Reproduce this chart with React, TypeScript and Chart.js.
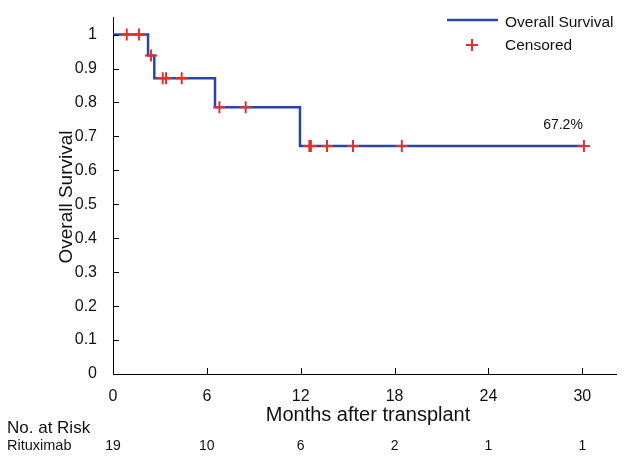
import React, { useEffect, useRef } from "react";
import { Chart, registerables } from "chart.js";

Chart.register(...registerables);

// Kaplan-Meier step points (months, survival)
const stepMonths = [0, 2.24, 2.64, 6.52, 11.95, 30.1];
const stepSurvival = [1, 0.938, 0.871, 0.786, 0.672, 0.672];

// Censored observations
const censorMonths = [0.88, 1.66, 2.43, 3.18, 3.39, 4.39, 6.8, 8.48, 12.55, 12.65, 13.68, 15.34, 18.46, 30.1];
const censorSurvival = [1, 1, 0.938, 0.871, 0.871, 0.871, 0.786, 0.786, 0.672, 0.672, 0.672, 0.672, 0.672, 0.672];

// Number at risk
const riskMonths = [0, 6, 12, 18, 24, 30];
const riskCounts = [19, 10, 6, 2, 1, 1];

const seriesLabels = ["Overall Survival", "Censored"];
const finalLabel = "67.2%";

const BLUE = "#2b45a6";
const RED = "#e8302a";
const FONT = "'Liberation Sans', Arial, Helvetica, sans-serif";

export default function App() {
  const ref = useRef<HTMLCanvasElement | null>(null);

  useEffect(() => {
    const canvas = ref.current;
    if (!canvas) return;

    const decor = {
      id: "decor",
      afterDraw(chart: any) {
        const ctx = chart.ctx as CanvasRenderingContext2D;
        const xs = chart.scales.x;
        const ys = chart.scales.y;
        const area = chart.chartArea;
        ctx.save();
        // inward tick marks
        ctx.strokeStyle = "#000";
        ctx.lineWidth = 1;
        xs.ticks.forEach((t: any) => {
          const px = Math.round(xs.getPixelForValue(t.value)) + 0.5;
          ctx.beginPath();
          ctx.moveTo(px, area.bottom);
          ctx.lineTo(px, area.bottom - 6);
          ctx.stroke();
        });
        ys.ticks.forEach((t: any) => {
          const py = Math.round(ys.getPixelForValue(t.value)) + 0.5;
          ctx.beginPath();
          ctx.moveTo(area.left, py);
          ctx.lineTo(area.left + 6, py);
          ctx.stroke();
        });

        ctx.fillStyle = "#111";
        // x title
        ctx.font = `20px ${FONT}`;
        ctx.textAlign = "center";
        ctx.textBaseline = "alphabetic";
        ctx.fillText("Months after transplant", 368, 421);

        // y title
        ctx.save();
        ctx.translate(72, 197);
        ctx.rotate(-Math.PI / 2);
        ctx.font = `19px ${FONT}`;
        ctx.textAlign = "center";
        ctx.fillText("Overall Survival", 0, 0);
        ctx.restore();

        // final survival label
        ctx.font = `14px ${FONT}`;
        ctx.textAlign = "center";
        ctx.fillText(finalLabel, 563, 129);

        // number at risk table
        ctx.textAlign = "left";
        ctx.font = `17px ${FONT}`;
        ctx.fillText("No. at Risk", 7, 433);
        ctx.font = `14.5px ${FONT}`;
        ctx.fillText("Rituximab", 7, 450);
        ctx.font = `14px ${FONT}`;
        ctx.textAlign = "center";
        riskMonths.forEach((m, i) => {
          ctx.fillText(String(riskCounts[i]), xs.getPixelForValue(m), 450);
        });

        // legend
        ctx.strokeStyle = BLUE;
        ctx.lineWidth = 2.5;
        ctx.beginPath();
        ctx.moveTo(447, 20);
        ctx.lineTo(498, 20);
        ctx.stroke();
        ctx.strokeStyle = RED;
        ctx.lineWidth = 2;
        ctx.beginPath();
        ctx.moveTo(466, 45);
        ctx.lineTo(478, 45);
        ctx.moveTo(472, 39);
        ctx.lineTo(472, 51);
        ctx.stroke();
        ctx.fillStyle = "#111";
        ctx.font = `15.5px ${FONT}`;
        ctx.textAlign = "left";
        ctx.fillText(seriesLabels[0], 505, 26.5);
        ctx.fillText(seriesLabels[1], 505, 50);
        ctx.restore();
      },
    };

    const chart = new Chart(canvas, {
      type: "line",
      data: {
        datasets: [
          {
            label: seriesLabels[1],
            type: "scatter",
            data: censorMonths.map((m, i) => ({ x: m, y: censorSurvival[i] })),
            showLine: false,
            pointStyle: "cross",
            pointRadius: 6,
            pointBorderWidth: 2,
            pointBorderColor: RED,
            pointBackgroundColor: RED,
          } as any,
          {
            label: seriesLabels[0],
            data: stepMonths.map((m, i) => ({ x: m, y: stepSurvival[i] })),
            stepped: "before",
            borderColor: BLUE,
            borderWidth: 2.5,
            pointRadius: 0,
            fill: false,
          } as any,
        ],
      },
      options: {
        animation: false,
        responsive: false,
        devicePixelRatio: 1,
        layout: { padding: { top: 6.5, right: 8, left: 0, bottom: 0 } },
        plugins: {
          legend: { display: false },
          tooltip: { enabled: false },
        },
        scales: {
          x: {
            type: "linear",
            min: 0,
            max: 32.15,
            grid: { display: false },
            border: { display: true, color: "#000", width: 1 },
            ticks: {
              stepSize: 6,
              includeBounds: false,
              autoSkip: false,
              padding: 5,
              color: "#111",
              font: { family: FONT, size: 16 },
              maxRotation: 0,
            },
            afterFit(scale: any) {
              scale.height = 83;
            },
          },
          y: {
            type: "linear",
            min: 0,
            max: 1.05,
            grid: { display: false },
            border: { display: true, color: "#000", width: 1 },
            ticks: {
              stepSize: 0.1,
              includeBounds: false,
              autoSkip: false,
              padding: 8,
              color: "#111",
              font: { family: FONT, size: 16 },
              callback: (v: any) => String(+Number(v).toFixed(1)),
            },
            afterFit(scale: any) {
              scale.width = 113;
            },
          },
        },
      } as any,
      plugins: [decor],
    });

    return () => chart.destroy();
  }, []);

  return (
    <div style={{ position: "fixed", left: 0, top: 0, width: 624, height: 457, background: "#fff" }}>
      <canvas ref={ref} width={624} height={457} style={{ display: "block" }} />
    </div>
  );
}
